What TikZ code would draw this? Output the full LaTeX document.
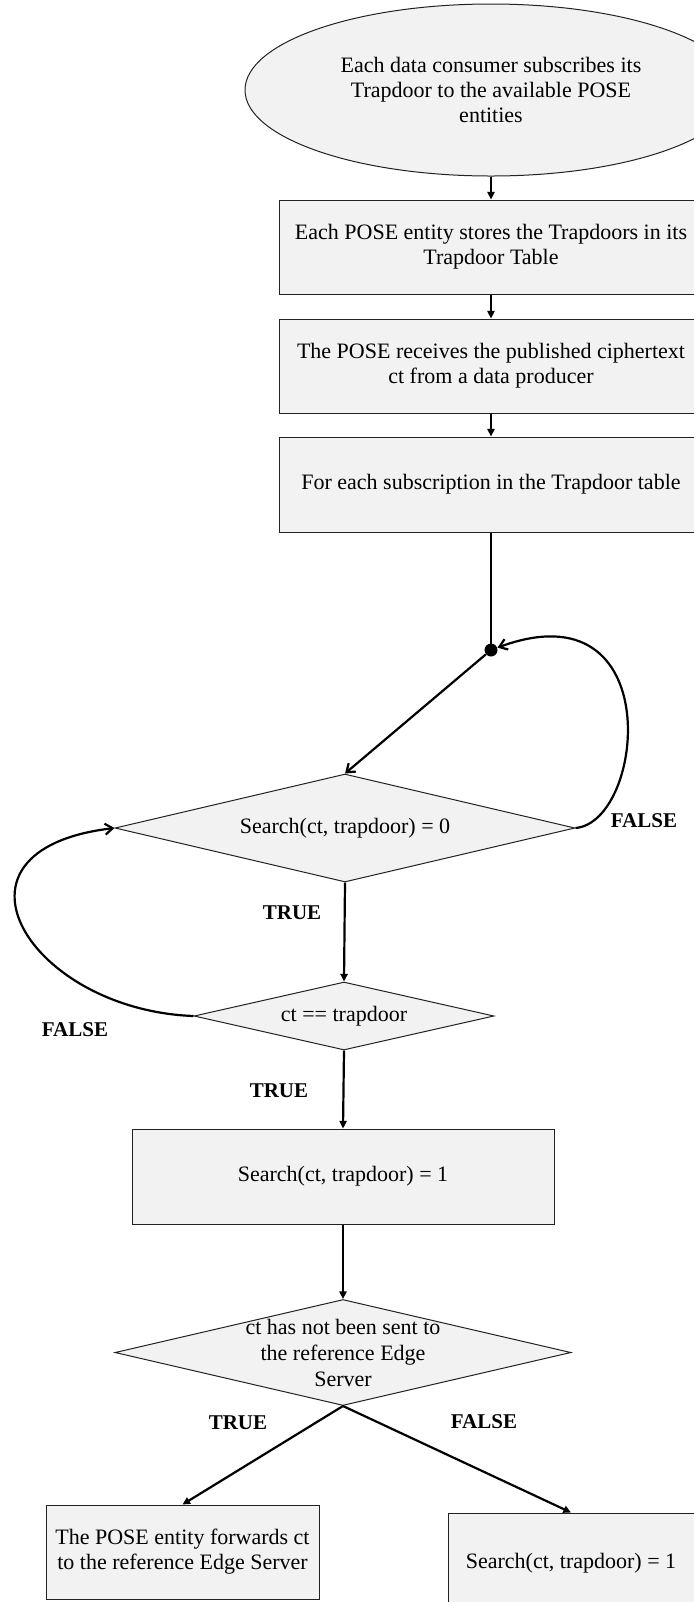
\documentclass[tikz,border=0pt]{standalone}
\usepackage{fontspec}
\setmainfont{Liberation Serif}
\usetikzlibrary{shapes.geometric,arrows.meta}
\definecolor{boxfill}{HTML}{F2F2F2}
\definecolor{boxline}{HTML}{222222}
\begin{document}
\begin{tikzpicture}[x=0.5pt,y=-0.5pt,
  txt/.style={font=\fontsize{11}{12.6}\selectfont, align=center},
  boxnode/.style={draw=boxline, line width=0.5pt, fill=boxfill, rectangle, inner sep=0pt, txt},
  ellnode/.style={draw=boxline, line width=0.5pt, fill=boxfill, ellipse, inner sep=0pt, txt},
  dianode/.style={draw=boxline, line width=0.5pt, fill=boxfill, diamond, inner sep=0pt},
  dtext/.style={font=\fontsize{11}{13}\selectfont, align=center, inner sep=0pt},
  lbl/.style={font=\fontsize{10.5}{12}\selectfont\bfseries, inner sep=0pt},
  conn/.style={line width=1.1pt, -{Triangle[length=3.8pt,width=3.6pt]}},
  plain/.style={line width=1.1pt},
  barb/.style={line width=1.1pt, -{Straight Barb[length=3.8pt,width=5.5pt]}},
  dotnode/.style={circle, fill=black, inner sep=0pt, minimum size=6.5pt}
]
\useasboundingbox (0,0) rectangle (694,1602);

\node[ellnode, minimum width=246pt, minimum height=86pt] (e0) at (491,90)
  {Each data consumer subscribes its\\Trapdoor to the available POSE\\entities};
\node[boxnode, minimum width=212pt, minimum height=47pt] (b1) at (491,247)
  {Each POSE entity stores the Trapdoors in its\\Trapdoor Table};
\node[boxnode, minimum width=212pt, minimum height=47pt] (b2) at (491,366)
  {The POSE receives the published ciphertext\\ct from a data producer};
\node[boxnode, minimum width=212pt, minimum height=47.5pt] (b3) at (491,484.5)
  {For each subscription in the Trapdoor table};
\node[dotnode] (dot) at (491,650) {};

\node[dianode, minimum width=230pt, minimum height=54pt,
  label={[dtext]center:Search(ct, trapdoor) = 0}] (d1) at (345,828) {};
\node[dianode, minimum width=150pt, minimum height=34pt,
  label={[dtext]center:ct == trapdoor}] (d2) at (344,1016) {};
\node[boxnode, minimum width=211pt, minimum height=47.5pt] (b4) at (343,1176.5)
  {Search(ct, trapdoor) = 1};
\node[dianode, minimum width=228pt, minimum height=53pt,
  label={[dtext]center:ct has not been sent to\\the reference Edge\\Server}] (d3) at (343,1352.5) {};
\node[boxnode, minimum width=136.5pt, minimum height=47pt] (b5) at (182.5,1552)
  {The POSE entity forwards ct\\to the reference Edge Server};
\node[boxnode, minimum width=123pt, minimum height=50pt] (b6) at (571,1563)
  {Search(ct, trapdoor) = 1};

\node[lbl] (t1) at (292,913) {TRUE};
\node[lbl] (f1) at (644,821) {FALSE};
\node[lbl] (f2) at (75,1030) {FALSE};
\node[lbl] (t2) at (279,1091) {TRUE};
\node[lbl] (t3) at (238,1423) {TRUE};
\node[lbl] (f3) at (484,1422) {FALSE};

\draw[conn] (e0.south) -- (b1.north);
\draw[conn] (b1.south) -- (b2.north);
\draw[conn] (b2.south) -- (b3.north);
\draw[plain] (b3.south) -- (dot.center);
\draw[barb] (dot) -- (d1.north);
\draw[barb] (d1.east) .. controls (645,822) and (668,585) .. (dot);
\draw[conn] (d1.south) -- (d2.north);
\draw[barb] (d2.west) .. controls (30,1010) and (-70,850) .. (d1.west);
\draw[conn] (d2.south) -- (b4.north);
\draw[conn] (b4.south) -- (d3.north);
\draw[conn] (d3.south) -- (b5.north);
\draw[conn] (d3.south) -- (b6.north);
\end{tikzpicture}
\end{document}
